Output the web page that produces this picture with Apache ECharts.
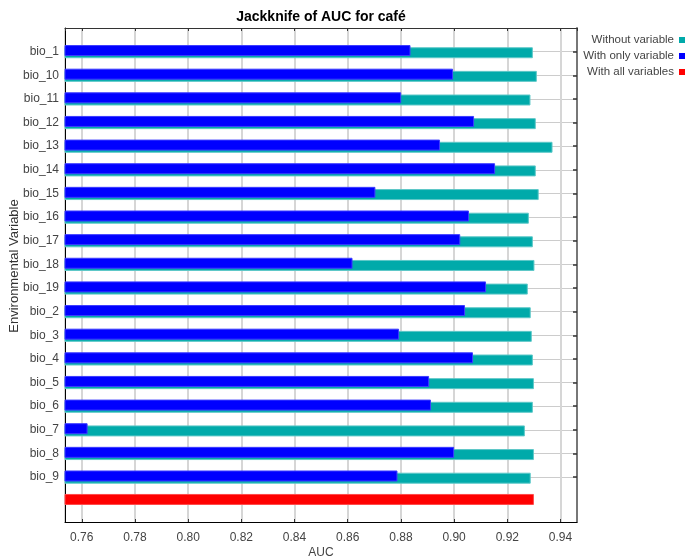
<!DOCTYPE html>
<html>
<head>
<meta charset="utf-8">
<script src="https://cdn.jsdelivr.net/npm/echarts@6/dist/echarts.min.js"></script>
<style>
  html, body { margin: 0; padding: 0; background: #ffffff; }
  #chart { width: 699px; height: 558px; }
</style>
</head>
<body>
<div id="chart"></div>
<script>
// Jackknife test of variable importance (regularized training AUC)
const variables = ['bio_1', 'bio_10', 'bio_11', 'bio_12', 'bio_13', 'bio_14', 'bio_15', 'bio_16', 'bio_17', 'bio_18',
                   'bio_19', 'bio_2', 'bio_3', 'bio_4', 'bio_5', 'bio_6', 'bio_7', 'bio_8', 'bio_9'];
const withoutVariable = [0.9296, 0.9311, 0.9287, 0.9307, 0.9370, 0.9307, 0.9318, 0.9281, 0.9296, 0.9302,
                         0.9277, 0.9288, 0.9292, 0.9296, 0.9300, 0.9296, 0.9266, 0.9300, 0.9288];
const withOnlyVariable = [0.8836, 0.8996, 0.8801, 0.9075, 0.8947, 0.9154, 0.8704, 0.9056, 0.9023, 0.8618,
                          0.9120, 0.9041, 0.8793, 0.9071, 0.8906, 0.8913, 0.7622, 0.9000, 0.8787];
const withAllVariables = 0.9300;
const seriesNames = ['Without variable', 'With only variable', 'With all variables'];

const FONT = 'Liberation Sans, Arial, sans-serif';

// The vertical axis is split into fine slots so the margins above the first
// variable and below the last one can be set independently of the row pitch.
const SLOT = 10;                                   // slots per variable row
const varSlot = (k) => SLOT * (k + 1);             // slot holding variable k
const allSlot = SLOT * (variables.length + 1) - 1; // slot for the full model
const slotCount = allSlot + 11;                    // last slot sits on the bottom edge
const slotToVar = {};
variables.forEach((name, k) => { slotToVar[varSlot(k)] = name; });
const isVariableSlot = (i) => slotToVar[i] !== undefined;

const rows = Array.from({ length: slotCount }, (_, i) => slotToVar[i] || '');
const blueData = Array(slotCount).fill('-');
const tealData = Array(slotCount).fill('-');
const redData = Array(slotCount).fill('-');
variables.forEach((_, k) => {
  blueData[varSlot(k)] = withOnlyVariable[k];
  tealData[varSlot(k)] = withoutVariable[k];
});
redData[allSlot] = withAllVariables;

const chart = echarts.init(document.getElementById('chart'), null, { renderer: 'canvas' });

const xRange = { min: 0.7537, max: 0.9462, splitNumber: 10 };

const barCommon = {
  type: 'bar',
  xAxisIndex: 0,
  yAxisIndex: 0,
  barWidth: 11,
  barMinWidth: 11,
  barGap: '-80%'
};

chart.setOption({
  animation: false,
  backgroundColor: '#ffffff',
  title: {
    text: 'Jackknife of AUC for café',
    left: 321,
    top: 10,
    padding: 0,
    textAlign: 'center',
    textStyle: { fontFamily: FONT, fontSize: 14, fontWeight: 'bold', color: '#000000' }
  },
  legend: {
    orient: 'vertical',
    right: 9,
    top: 29,
    align: 'right',
    icon: 'rect',
    itemWidth: 6,
    itemHeight: 6,
    itemGap: 4,
    data: seriesNames,
    itemStyle: { borderWidth: 0 },
    textStyle: { fontFamily: FONT, fontSize: 11.5, color: '#444444' }
  },
  grid: { left: 65, right: 122, top: 28, bottom: 36, outerBoundsMode: 'none', containLabel: false },
  xAxis: [
    {
      type: 'value',
      position: 'bottom',
      ...xRange,
      name: 'AUC',
      nameLocation: 'middle',
      nameGap: 25,
      nameMoveOverlap: false,
      nameTextStyle: { fontFamily: FONT, fontSize: 12, color: '#444444' },
      axisLine: { show: true, lineStyle: { color: '#000000', width: 1 } },
      axisTick: { show: true, inside: true, length: 3, lineStyle: { color: '#333333' } },
      axisLabel: {
        fontFamily: FONT, fontSize: 12, color: '#444444', margin: 10,
        showMinLabel: false, showMaxLabel: false,
        formatter: (v) => v.toFixed(2)
      },
      splitLine: { show: true, lineStyle: { color: '#d6d6d6', width: 2 } }
    },
    {
      type: 'value',
      position: 'top',
      ...xRange,
      axisLine: { show: true, lineStyle: { color: '#333333', width: 1 } },
      axisTick: { show: true, inside: true, length: 3, lineStyle: { color: '#333333' } },
      axisLabel: { show: false },
      splitLine: { show: false }
    }
  ],
  yAxis: [
    {
      type: 'category',
      data: rows,
      inverse: true,
      boundaryGap: false,
      position: 'left',
      name: 'Environmental Variable',
      nameLocation: 'middle',
      nameRotate: 90,
      nameGap: 44,
      nameMoveOverlap: false,
      nameTextStyle: { fontFamily: FONT, fontSize: 13, color: '#333333', padding: [0, 0, 0, 18] },
      axisLine: { show: true, lineStyle: { color: '#000000', width: 1 } },
      axisTick: { show: false },
      axisLabel: {
        fontFamily: FONT, fontSize: 12, color: '#444444', margin: 6,
        interval: (i) => isVariableSlot(i)
      },
      splitLine: { show: true, interval: (i) => isVariableSlot(i), lineStyle: { color: '#cccccc', width: 1 } }
    },
    {
      type: 'category',
      data: rows,
      inverse: true,
      boundaryGap: false,
      position: 'right',
      axisLine: { show: true, lineStyle: { color: '#777777', width: 2 } },
      axisTick: {
        show: true, inside: true, length: 4,
        interval: (i) => isVariableSlot(i),
        lineStyle: { color: '#333333', width: 1.5 }
      },
      axisLabel: { show: false },
      splitLine: { show: false }
    }
  ],
  series: [
    {
      ...barCommon,
      name: seriesNames[1],
      stack: 'only',
      data: blueData,
      z: 3,
      itemStyle: { color: '#0000ff', borderColor: '#3c3cff', borderWidth: 1 }
    },
    {
      ...barCommon,
      name: seriesNames[0],
      stack: 'rest',
      data: tealData,
      z: 2,
      itemStyle: { color: '#00aaaa', borderColor: '#5ec8c8', borderWidth: 1 }
    },
    {
      ...barCommon,
      name: seriesNames[2],
      stack: 'rest',
      data: redData,
      z: 2,
      itemStyle: { color: '#ff0000', borderColor: '#ff4a4a', borderWidth: 1 }
    }
  ]
});
</script>
</body>
</html>
